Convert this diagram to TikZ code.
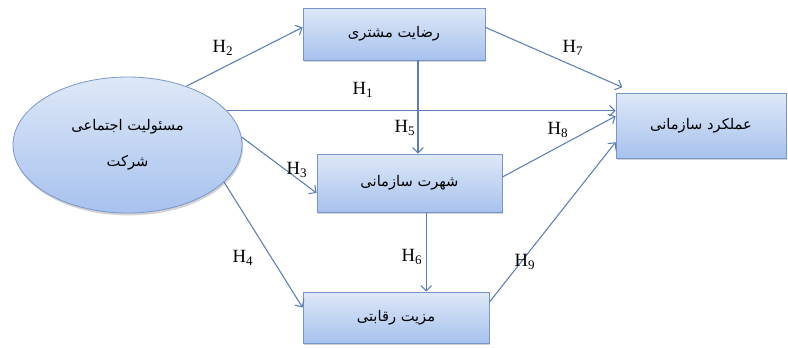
\documentclass[tikz,border=0pt]{standalone}
\usepackage{fontspec}
\setmainfont{Liberation Serif}
\newfontfamily\farsi[Script=Arabic]{DejaVu Sans}
\TeXXeTstate=1
\usepackage{tikz}
\usetikzlibrary{arrows.meta,shapes.geometric,shadows,positioning,calc}

\definecolor{boxtop}{HTML}{DEE8F7}
\definecolor{boxbot}{HTML}{A7C2EE}
\definecolor{boxline}{HTML}{7896CB}
\definecolor{linkcol}{HTML}{5B7FB6}

\tikzset{
  varbox/.style={draw=boxline,line width=0.6pt,top color=boxtop,bottom color=boxbot,
    drop shadow={shadow xshift=0.8pt,shadow yshift=-1.8pt,opacity=0.35},
    font=\farsi\fontsize{11}{14}\selectfont,inner sep=0pt},
  link/.style={draw=linkcol,line width=0.8pt,->},
  hyp/.style={font=\fontsize{14}{16}\selectfont,inner sep=1pt}
}

\begin{document}
\begin{tikzpicture}[x=0.75pt,y=-0.75pt,>={Straight Barb[length=4pt,width=8pt]}]
\useasboundingbox (0,0) rectangle (788,347);
\node[varbox,ellipse,minimum width=171.75pt,minimum height=102pt,align=center,
  font=\farsi\fontsize{11}{27}\selectfont] (csr) at (127.5,145)
  {\beginR مسئولیت اجتماعی\endR\\\beginR شرکت\endR};
\node[varbox,minimum width=136.5pt,minimum height=39pt] (sat) at (394,34) {\beginR رضایت مشتری\endR};
\node[varbox,minimum width=127.5pt,minimum height=48.75pt] (perf) at (701,125.5) {\beginR عملکرد سازمانی\endR};
\node[varbox,minimum width=138.75pt,minimum height=43.5pt] (rep) at (409.5,183) {\beginR شهرت سازمانی\endR};
\node[varbox,minimum width=139.5pt,minimum height=38.25pt] (adv) at (396,317.5) {\beginR مزیت رقابتی\endR};

\draw[link] (csr.45) -- ([yshift=5pt]sat.west);
\draw[link] (csr.19) -- (perf.west |- csr.19);
\draw[link] (csr.4) -- ([yshift=-7.5pt]rep.west);
\draw[link] (csr.-21) -- ([yshift=7.5pt]adv.west);
\draw[link] ([xshift=18pt]sat.south) -- ([xshift=18pt]sat.south |- rep.north);
\draw[link] ([xshift=12.5pt]rep.south) -- ([xshift=12.5pt]rep.south |- adv.north);
\draw[link] ([yshift=5pt]sat.east) -- ([shift={(5pt,4pt)}]perf.north west);
\draw[link] ([yshift=4.5pt]rep.east) -- ([yshift=7pt]perf.west);
\draw[link] ([yshift=11.5pt]adv.east) -- ([yshift=-12.5pt]perf.west);

\node[hyp] (h1) at (363,90) {H\textsubscript{1}};
\node[hyp] (h2) at (223,48) {H\textsubscript{2}};
\node[hyp] (h3) at (297,170) {H\textsubscript{3}};
\node[hyp] (h4) at (243,258) {H\textsubscript{4}};
\node[hyp] (h5) at (405,128) {H\textsubscript{5}};
\node[hyp] (h6) at (412,257) {H\textsubscript{6}};
\node[hyp] (h7) at (573,48) {H\textsubscript{7}};
\node[hyp] (h8) at (558,130) {H\textsubscript{8}};
\node[hyp] (h9) at (525,262) {H\textsubscript{9}};
\end{tikzpicture}
\end{document}
